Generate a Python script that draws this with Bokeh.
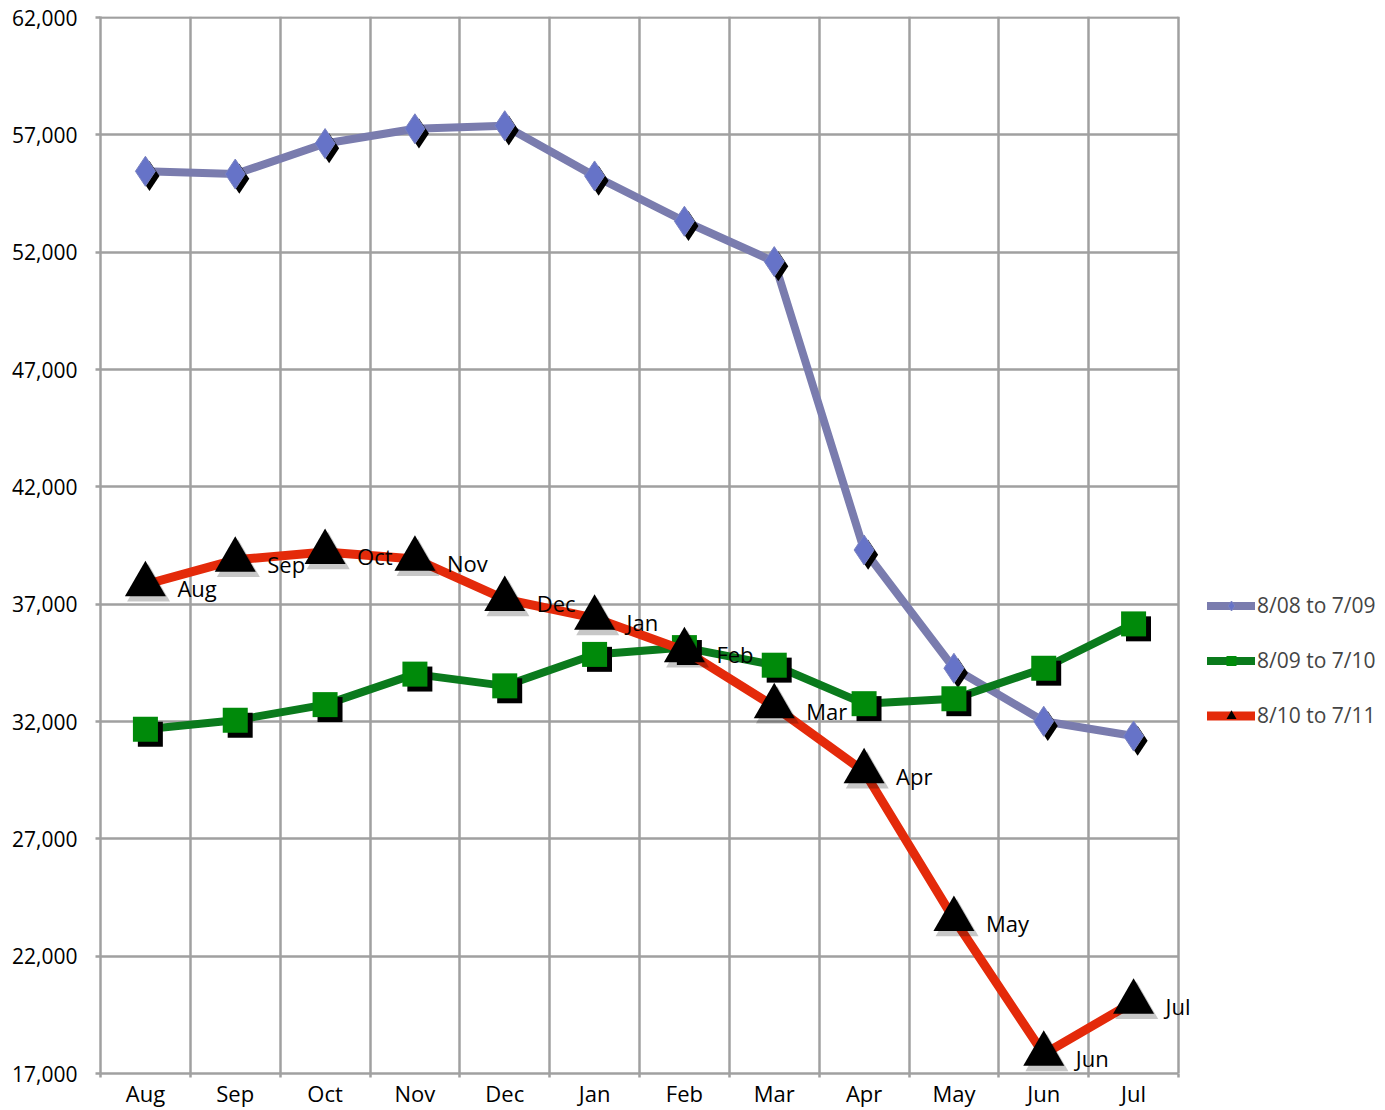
from bokeh.plotting import figure
from bokeh.models import (FixedTicker, NumeralTickFormatter, Legend, LegendItem,
                          ColumnDataSource, Range1d, Label)
from bokeh.transform import dodge
from bokeh.embed import file_html
from bokeh.resources import INLINE

months = ["Aug", "Sep", "Oct", "Nov", "Dec", "Jan", "Feb", "Mar", "Apr", "May", "Jun", "Jul"]
s0809 = [55450, 55330, 56630, 57260, 57390, 55250, 53320, 51600, 39310, 34270, 32010, 31380]
s0910 = [31670, 32050, 32720, 34020, 33520, 34860, 35150, 34400, 32760, 32970, 34270, 36160]
s1011 = [37840, 38890, 39220, 38930, 37210, 36410, 35030, 32640, 29870, 23580, 17830, 20050]
series_names = ["8/08 to 7/09", "8/09 to 7/10", "8/10 to 7/11"]
y_ticks = [17000, 22000, 27000, 32000, 37000, 42000, 47000, 52000, 57000, 62000]
Y_MIN, Y_MAX = 17000, 62000

FONT = "Open Sans"
n = len(months)
xpos = [i + 0.5 for i in range(n)]
bounds = list(range(n + 1))

# plot area geometry: categories occupy 1078 px, legend lives in the extra frame space on the right
LEFT, TOP, W, H = 100, 16, 1385, 1110
cat_px = 1078 / n
x_end = (W - LEFT) / cat_px

src = ColumnDataSource(dict(x=xpos, m=months, a=s0809, b=s0910, c=s1011))

p = figure(width=W, height=H, x_range=Range1d(0, x_end), y_range=Range1d(Y_MIN, Y_MAX + 45),
           output_backend="svg", toolbar_location=None,
           min_border_left=LEFT, min_border_top=TOP, min_border_bottom=0, min_border_right=0)
p.title.visible = False
p.background_fill_color = "white"
p.border_fill_color = "white"
p.outline_line_color = None

GRID = "#a0a0a0"
xa = p.xaxis[0]
xa.bounds = (0, n)
xa.ticker = FixedTicker(ticks=xpos, minor_ticks=bounds)
xa.major_label_overrides = {x: m for x, m in zip(xpos, months)}
xa.major_label_text_font = FONT
xa.major_label_text_font_size = "22px"
xa.major_label_text_color = "black"
xa.major_label_standoff = 0
xa.major_tick_out = 0
xa.major_tick_in = 0
xa.minor_tick_out = 4
xa.minor_tick_in = 0
xa.minor_tick_line_color = GRID
xa.minor_tick_line_width = 2.5
xa.axis_line_color = GRID
xa.axis_line_width = 2.5

ya = p.yaxis[0]
ya.ticker = FixedTicker(ticks=y_ticks)
ya.formatter = NumeralTickFormatter(format="0,0")
ya.major_label_text_font = FONT
ya.major_label_text_font_size = "21px"
ya.major_label_text_color = "black"
ya.major_label_standoff = 18
ya.major_tick_out = 5
ya.major_tick_in = 0
ya.major_tick_line_color = GRID
ya.major_tick_line_width = 2.5
ya.axis_line_color = GRID
ya.axis_line_width = 2.5
ya.minor_tick_line_color = None

p.xgrid.ticker = FixedTicker(ticks=bounds)
p.ygrid.ticker = FixedTicker(ticks=y_ticks)
p.ygrid.cross_bounds = (0, n)
for g in (p.xgrid[0], p.ygrid[0]):
    g.grid_line_color = GRID
    g.grid_line_width = 2.5

# series 1: blue diamonds
l1 = p.line("x", "a", source=src, line_color="#7a7cae", line_width=8, line_join="round", line_cap="round")
p.scatter(dodge("x", 0.045, range=p.x_range), dodge("a", -200, range=p.y_range), source=src,
          marker="diamond", size=30, fill_color="black", line_color=None)
m1 = p.scatter("x", "a", source=src, marker="diamond", size=30, fill_color="#6673c8",
               line_color="#7a82c0", line_width=1)

# series 2: green squares
l2 = p.line("x", "b", source=src, line_color="#0a7a1c", line_width=8, line_join="round", line_cap="round")
p.scatter(dodge("x", 0.055, range=p.x_range), dodge("b", -210, range=p.y_range), source=src,
          marker="square", size=25, fill_color="black", line_color=None)
m2 = p.scatter("x", "b", source=src, marker="square", size=25, fill_color="#008a0a", line_color=None)

# series 3: red triangles
l3 = p.line("x", "c", source=src, line_color="#e42a0a", line_width=9, line_join="round", line_cap="round")
p.scatter(dodge("x", 0.035, range=p.x_range), dodge("c", -200, range=p.y_range), source=src,
          marker="triangle", size=43, fill_color="black", fill_alpha=0.22, line_color=None)
m3 = p.scatter("x", "c", source=src, marker="triangle", size=41, fill_color="black", line_color=None)

# data labels for the red series
for x, y, m in zip(xpos, s1011, months):
    p.add_layout(Label(x=x, y=y, text=m, x_offset=32, y_offset=-4,
                       text_baseline="middle", text_align="left",
                       text_font=FONT, text_font_size="22px", text_color="black"))

legend = Legend(items=[LegendItem(label=series_names[0], renderers=[l1, m1]),
                       LegendItem(label=series_names[1], renderers=[l2, m2]),
                       LegendItem(label=series_names[2], renderers=[l3, m3])],
                location=(1107, 344), orientation="vertical",
                glyph_width=48, glyph_height=25, label_height=25, spacing=27,
                label_standoff=2, padding=0, margin=0,
                border_line_color=None, background_fill_alpha=0,
                label_text_font=FONT, label_text_font_size="21px")
p.add_layout(legend, "center")

open("out.html", "w").write(file_html(p, INLINE))
